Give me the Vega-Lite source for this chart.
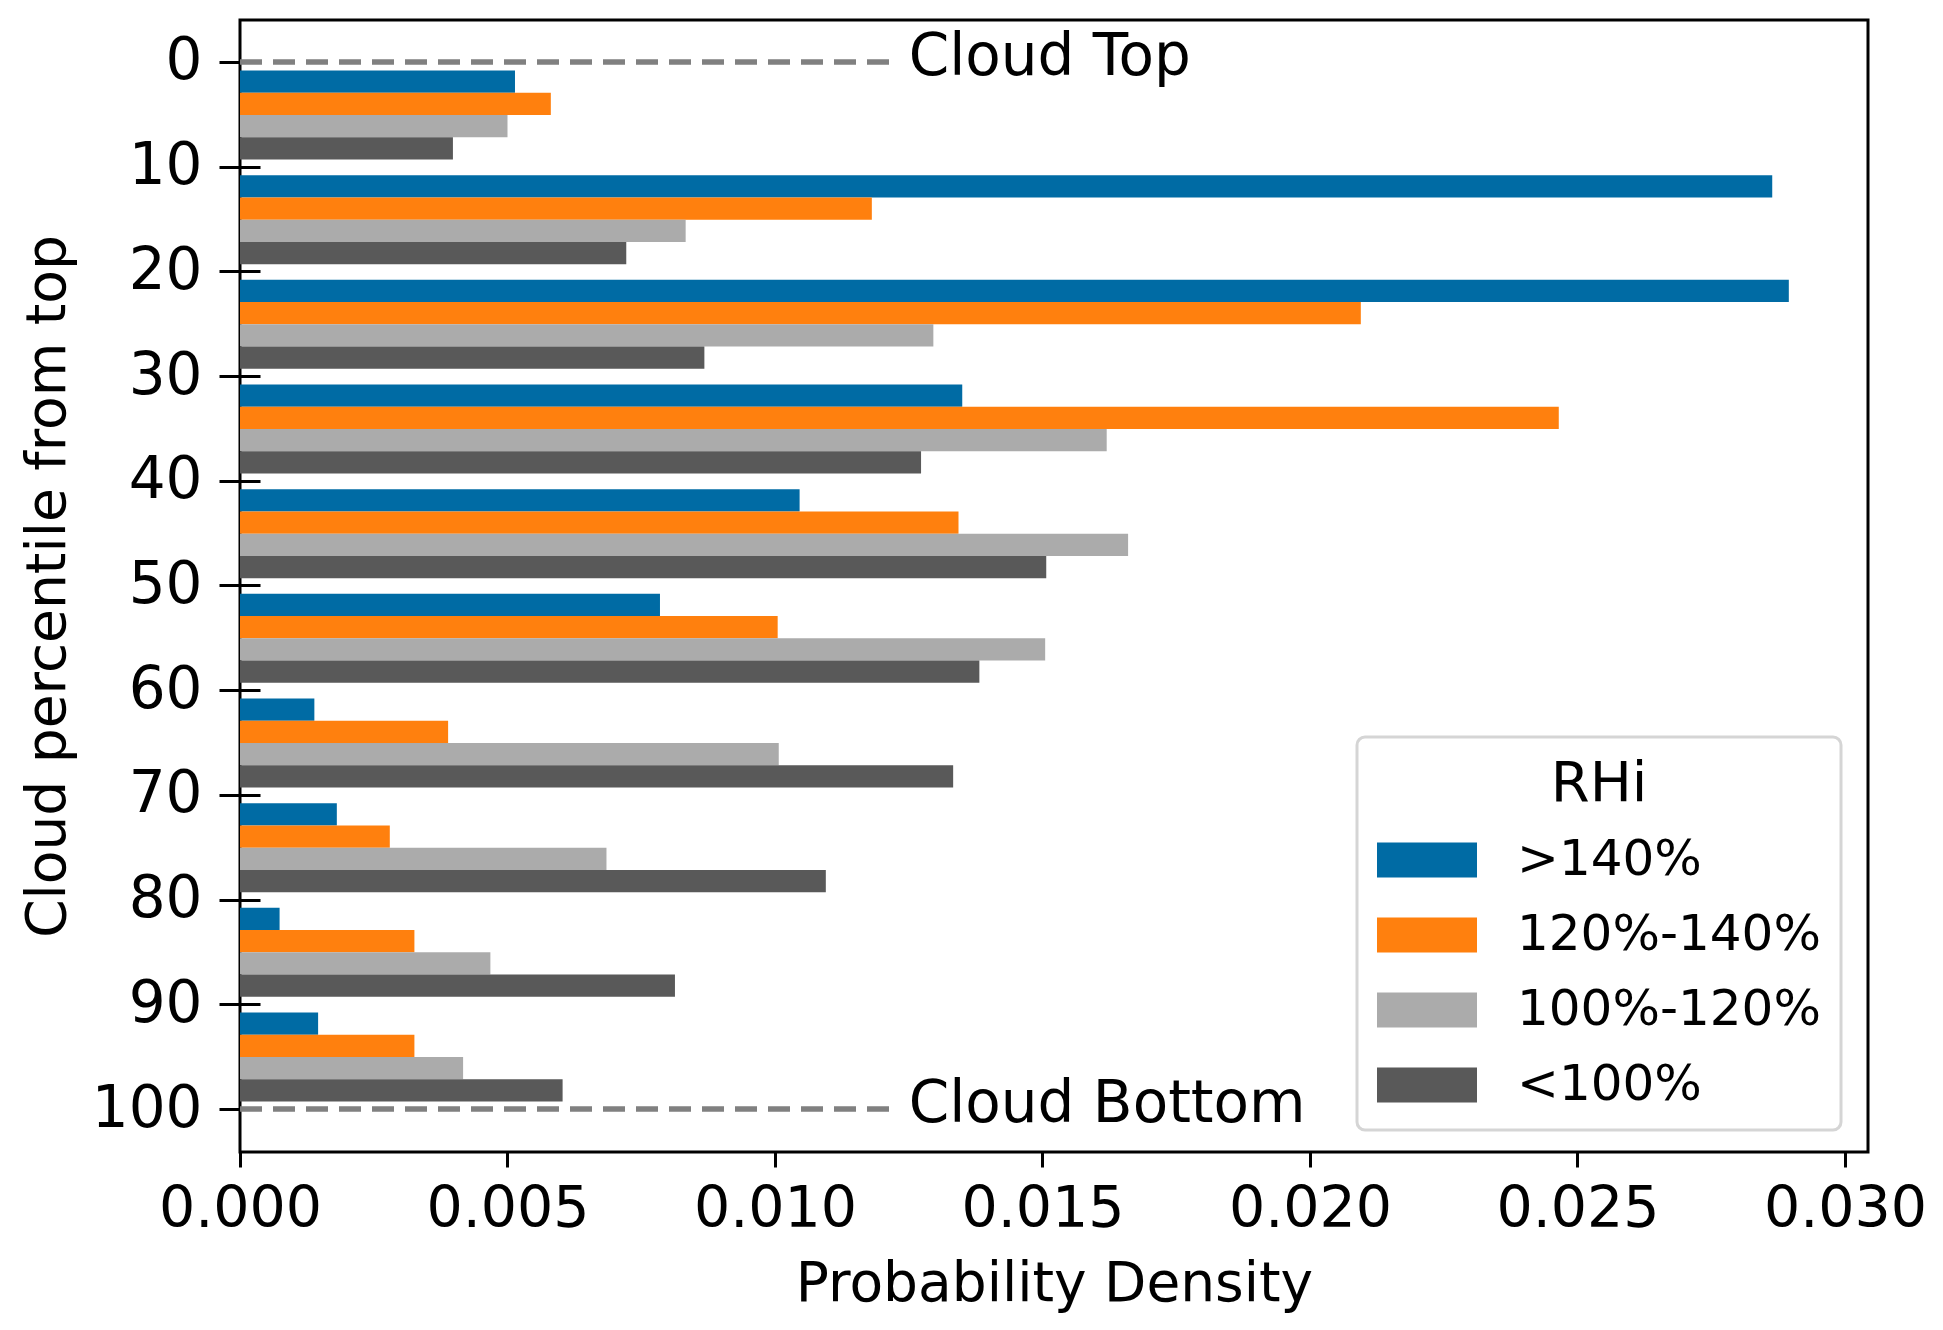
{
  "$schema": "https://vega.github.io/schema/vega-lite/v6.json",
  "width": 1628,
  "height": 1132,
  "autosize": {"type": "none"},
  "padding": {"left": 240, "top": 20, "right": 75, "bottom": 178},
  "background": "white",
  "config": {
    "font": "DejaVu Sans",
    "view": {"stroke": "black", "strokeWidth": 3},
    "axis": {"labelFont": "DejaVu Sans", "titleFont": "DejaVu Sans", "titleFontWeight": "normal", "labelColor": "black", "titleColor": "black", "tickColor": "black", "grid": false}
  },
  "datasets": {
    "bars": [
      {"pct": 0, "rhi": ">140%", "density": 0.00514},
      {"pct": 0, "rhi": "120%-140%", "density": 0.00581},
      {"pct": 0, "rhi": "100%-120%", "density": 0.00500},
      {"pct": 0, "rhi": "<100%", "density": 0.00398},
      {"pct": 10, "rhi": ">140%", "density": 0.02864},
      {"pct": 10, "rhi": "120%-140%", "density": 0.01181},
      {"pct": 10, "rhi": "100%-120%", "density": 0.00833},
      {"pct": 10, "rhi": "<100%", "density": 0.00722},
      {"pct": 20, "rhi": ">140%", "density": 0.02895},
      {"pct": 20, "rhi": "120%-140%", "density": 0.02095},
      {"pct": 20, "rhi": "100%-120%", "density": 0.01296},
      {"pct": 20, "rhi": "<100%", "density": 0.00868},
      {"pct": 30, "rhi": ">140%", "density": 0.01350},
      {"pct": 30, "rhi": "120%-140%", "density": 0.02465},
      {"pct": 30, "rhi": "100%-120%", "density": 0.01620},
      {"pct": 30, "rhi": "<100%", "density": 0.01273},
      {"pct": 40, "rhi": ">140%", "density": 0.01046},
      {"pct": 40, "rhi": "120%-140%", "density": 0.01343},
      {"pct": 40, "rhi": "100%-120%", "density": 0.01660},
      {"pct": 40, "rhi": "<100%", "density": 0.01507},
      {"pct": 50, "rhi": ">140%", "density": 0.00785},
      {"pct": 50, "rhi": "120%-140%", "density": 0.01005},
      {"pct": 50, "rhi": "100%-120%", "density": 0.01505},
      {"pct": 50, "rhi": "<100%", "density": 0.01382},
      {"pct": 60, "rhi": ">140%", "density": 0.00139},
      {"pct": 60, "rhi": "120%-140%", "density": 0.00389},
      {"pct": 60, "rhi": "100%-120%", "density": 0.01007},
      {"pct": 60, "rhi": "<100%", "density": 0.01333},
      {"pct": 70, "rhi": ">140%", "density": 0.00181},
      {"pct": 70, "rhi": "120%-140%", "density": 0.00280},
      {"pct": 70, "rhi": "100%-120%", "density": 0.00685},
      {"pct": 70, "rhi": "<100%", "density": 0.01095},
      {"pct": 80, "rhi": ">140%", "density": 0.00074},
      {"pct": 80, "rhi": "120%-140%", "density": 0.00326},
      {"pct": 80, "rhi": "100%-120%", "density": 0.00468},
      {"pct": 80, "rhi": "<100%", "density": 0.00813},
      {"pct": 90, "rhi": ">140%", "density": 0.00146},
      {"pct": 90, "rhi": "120%-140%", "density": 0.00326},
      {"pct": 90, "rhi": "100%-120%", "density": 0.00417},
      {"pct": 90, "rhi": "<100%", "density": 0.00603}
    ],
    "marks": [
      {"label": "Cloud Top", "percentile": 0},
      {"label": "Cloud Bottom", "percentile": 100}
    ]
  },
  "layer": [
    {
      "data": {"name": "bars"},
      "mark": {"type": "bar", "orient": "horizontal"},
      "encoding": {
        "y": {"field": "pct", "type": "ordinal", "axis": null,
              "scale": {"paddingInner": 0.15, "paddingOuter": 0.4825}},
        "yOffset": {"field": "rhi", "type": "nominal", "sort": [">140%", "120%-140%", "100%-120%", "<100%"], "scale": {"paddingInner": 0, "paddingOuter": 0}},
        "x": {"field": "density", "type": "quantitative",
              "scale": {"domain": [0, 0.03043], "nice": false, "zero": false},
              "axis": {"values": [0, 0.005, 0.01, 0.015, 0.02, 0.025, 0.03], "format": ".3f", "domain": false,
                       "labelFlush": false, "labelOverlap": false,
                       "tickSize": 15, "tickWidth": 3, "labelFontSize": 57, "labelPadding": 14,
                       "title": "Probability Density", "titleFontSize": 55, "titlePadding": 20}},
        "color": {"field": "rhi", "type": "nominal", "sort": [">140%", "120%-140%", "100%-120%", "<100%"],
                  "scale": {"domain": [">140%", "120%-140%", "100%-120%", "<100%"], "range": ["#006BA4", "#FF800E", "#ABABAB", "#595959"]},
                  "legend": {"title": "RHi", "orient": "none", "legendX": 1117, "legendY": 717,
                             "titleFontSize": 56, "titleFontWeight": "normal", "titleColor": "black", "titleAlign": "center", "titleAnchor": "middle",
                             "labelFontSize": 50, "labelColor": "black", "labelOffset": 40, "labelLimit": 500,
                             "symbolType": "M-1,-0.35H1V0.35H-1Z", "symbolSize": 10000, "symbolStrokeWidth": 0, "symbolOpacity": 1,
                             "fillColor": "white", "strokeColor": "#d5d5d5", "cornerRadius": 8,
                             "padding": 20, "titlePadding": -3, "rowPadding": 0,
                             "encode": {"legend": {"update": {"strokeWidth": {"value": 3}}}}}}
      }
    },
    {
      "data": {"name": "marks"},
      "encoding": {
        "y": {"field": "percentile", "type": "quantitative",
              "scale": {"domain": [-4.0, 104.1], "nice": false, "zero": false, "reverse": true},
              "axis": {"values": [0, 10, 20, 30, 40, 50, 60, 70, 80, 90, 100], "domain": false, "offset": -20,
                       "tickSize": 41, "tickWidth": 3, "labelFontSize": 58, "labelPadding": 17,
                       "title": "Cloud percentile from top", "titleFontSize": 55, "titlePadding": 15}}
      },
      "layer": [
        {
          "mark": {"type": "rule", "color": "#808080", "strokeWidth": 5.5, "strokeDash": [22, 11]},
          "encoding": {
            "x": {"datum": 0},
            "x2": {"datum": 0.01215}
          }
        },
        {
          "mark": {"type": "text", "align": "left", "baseline": "middle", "fontSize": 58, "color": "black", "dy": -4},
          "encoding": {
            "x": {"datum": 0.0125},
            "text": {"field": "label"}
          }
        }
      ]
    }
  ],
  "resolve": {"scale": {"y": "independent"}}
}
